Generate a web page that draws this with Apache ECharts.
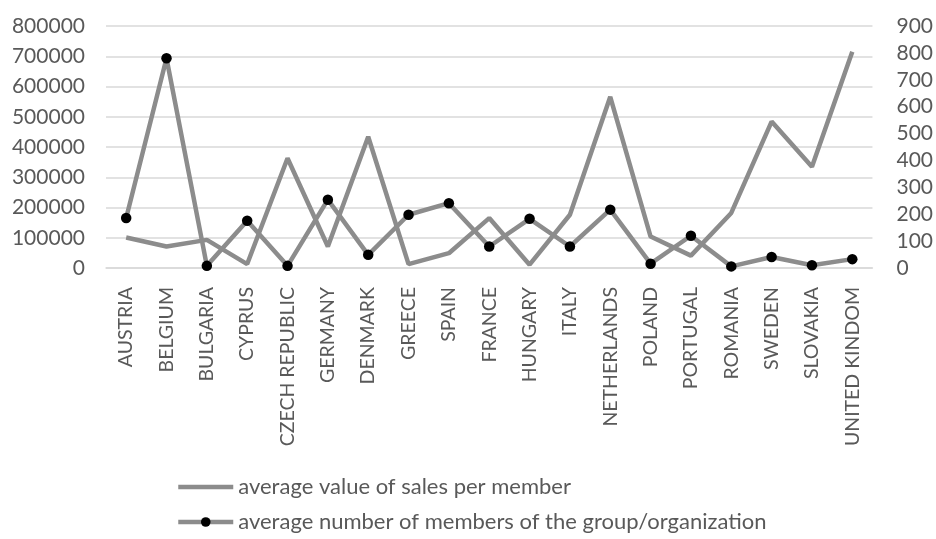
<!DOCTYPE html>
<html>
<head>
<meta charset="utf-8">
<script src="https://cdn.jsdelivr.net/npm/echarts@6/dist/echarts.min.js"></script>
<style>
html,body{margin:0;padding:0;background:#fff;}
#main{width:936px;height:539px;}
</style>
</head>
<body>
<div id="main"></div>
<script>
const categories = ["AUSTRIA","BELGIUM","BULGARIA","CYPRUS","CZECH REPUBLIC","GERMANY","DENMARK","GREECE","SPAIN","FRANCE","HUNGARY","ITALY","NETHERLANDS","POLAND","PORTUGAL","ROMANIA","SWEDEN","SLOVAKIA","UNITED KINDOM"];
const salesPerMember = [101000,71000,93000,13000,363000,71000,434000,13000,49000,165000,11000,176000,566000,104000,41000,182000,484000,335000,715000];
const membersPerGroup = [186,780,8,176,8,254,49,198,241,80,183,80,217,16,120,6,41,10,33];
const seriesNames = ["average value of sales per member","average number of members of the group/organization"];

const FONT = "Lato";
const chart = echarts.init(document.getElementById('main'));
chart.setOption({
  backgroundColor:'#ffffff',
  animation:false,
  textStyle:{fontFamily:FONT},
  grid:{left:106,right:63,top:26,bottom:271,containLabel:false},
  legend:{
    orient:'vertical', left:176, top:476, padding:0, itemWidth:55, itemHeight:12, itemGap:13,
    textStyle:{fontFamily:FONT,fontSize:22,color:'#595959',lineHeight:22},
    lineStyle:{width:4.5,color:'#8c8c8c'},
    data:[
      {name:seriesNames[0],itemStyle:{color:'rgba(0,0,0,0)',borderWidth:0,opacity:0}},
      {name:seriesNames[1],itemStyle:{color:'#000000',borderWidth:0}}
    ]
  },
  xAxis:{
    type:'category', data:categories, boundaryGap:true,
    axisLine:{show:true,lineStyle:{color:'#d9d9d9',width:1.5}},
    axisTick:{show:false},
    axisLabel:{rotate:90,interval:0,margin:19,color:'#595959',fontSize:19.5,fontFamily:FONT}
  },
  yAxis:[
    {type:'value',min:0,max:800000,interval:100000,
     axisLabel:{color:'#595959',fontSize:21,fontFamily:FONT,margin:21,formatter:v=>String(v)},
     splitLine:{lineStyle:{color:'#d9d9d9',width:1.5}},
     axisLine:{show:false},axisTick:{show:false}},
    {type:'value',min:0,max:900,interval:100,
     axisLabel:{color:'#595959',fontSize:21,fontFamily:FONT,margin:24,formatter:v=>String(v)},
     splitLine:{show:false},axisLine:{show:false},axisTick:{show:false}}
  ],
  series:[
    {name:seriesNames[0],type:'line',yAxisIndex:0,data:salesPerMember,
     symbol:'none',lineStyle:{color:'#8c8c8c',width:4.5},itemStyle:{color:'#8c8c8c'}},
    {name:seriesNames[1],type:'line',yAxisIndex:1,data:membersPerGroup,
     symbol:'circle',symbolSize:10.5,showSymbol:true,
     lineStyle:{color:'#8c8c8c',width:4.5},itemStyle:{color:'#000000',borderWidth:0}}
  ]
});
</script>
</body>
</html>
